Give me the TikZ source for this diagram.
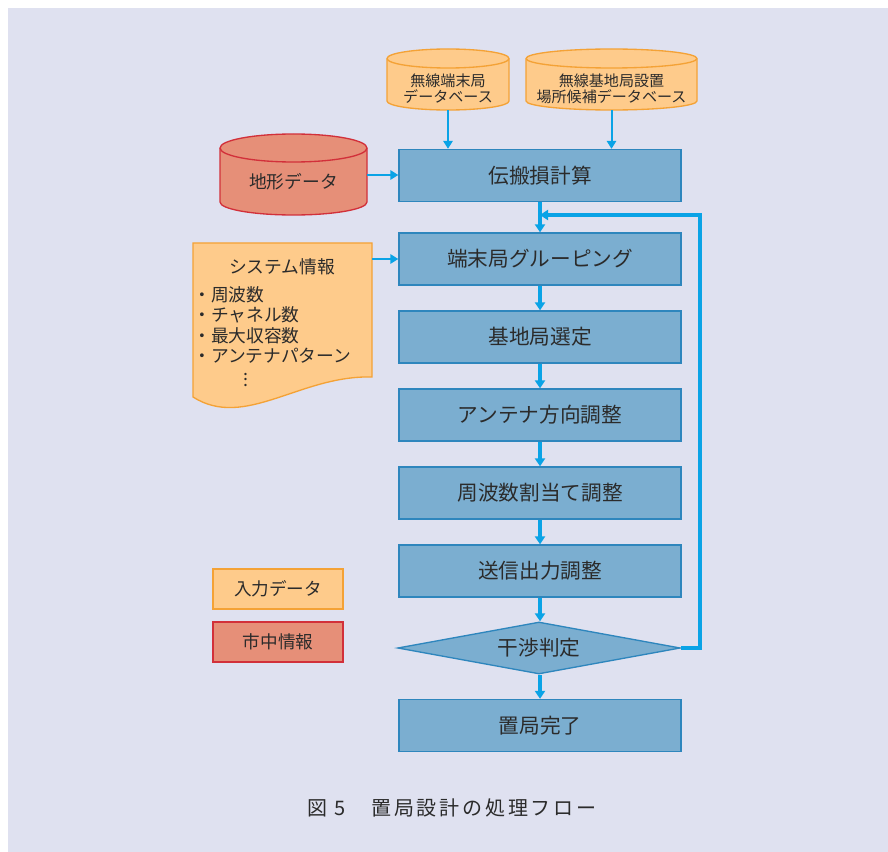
\documentclass[tikz,border=0pt]{standalone}
\usepackage{fontspec}
\setmainfont{Noto Sans CJK JP}
\usetikzlibrary{shapes.geometric,arrows.meta}
\definecolor{bgpanel}{HTML}{DFE1F0}
\definecolor{boxfill}{HTML}{7BAED0}
\definecolor{boxdraw}{HTML}{2E86BD}
\definecolor{arrowblue}{HTML}{0AA3E6}
\definecolor{orfill}{HTML}{FECB8B}
\definecolor{ordraw}{HTML}{F4A236}
\definecolor{rdfill}{HTML}{E68F78}
\definecolor{rddraw}{HTML}{D2303A}
\definecolor{txt}{HTML}{2B2B2B}
\tikzset{
  procbox/.style={draw=boxdraw, fill=boxfill, line width=1pt, minimum width=211.5pt, minimum height=39pt, inner sep=0pt, text=txt, font=\fontsize{15.5}{18}\selectfont},
  decbox/.style={diamond, aspect=5.42, draw=boxdraw, fill=boxfill, line width=1pt, minimum width=212pt, minimum height=39pt, inner sep=0pt, text=txt, font=\fontsize{15.5}{18}\selectfont},
  flow/.style={draw=arrowblue, line width=2.4pt, -{Triangle[length=6pt,width=7.5pt]}},
  inflow/.style={draw=arrowblue, line width=1.5pt, -{Triangle[length=6pt,width=7pt]}},
  orshape/.style={fill=orfill, draw=ordraw, line width=1pt},
  rdshape/.style={fill=rdfill, draw=rddraw, line width=1pt},
  lbl/.style={inner sep=0pt, text=txt, align=center},
  legbox/.style={minimum width=97.5pt, minimum height=30pt, inner sep=0pt, line width=1pt, text=txt, font=\fontsize{13.2}{16}\selectfont},
}
\begin{document}
\begin{tikzpicture}[x=0.75pt,y=-0.75pt]
\useasboundingbox (0,0) rectangle (888,852);
\fill[bgpanel] (8,8) rectangle (888,852);

% database cylinders
\path[orshape] (387,58.5) -- (387,101) arc[start angle=180,end angle=0,x radius=61,y radius=9] -- (509,58.5) arc[start angle=0,end angle=-180,x radius=61,y radius=9.5] -- cycle;
\draw[ordraw, line width=1pt] (387,58.5) arc[start angle=180,end angle=0,x radius=61,y radius=9.5];
\node[lbl, font=\fontsize{11.3}{13}\selectfont, minimum width=91.5pt, minimum height=31.5pt] (db1) at (448,89) {無線端末局\\[-1pt]データベース};

\path[orshape] (526,58.5) -- (526,101) arc[start angle=180,end angle=0,x radius=85.5,y radius=9] -- (697,58.5) arc[start angle=0,end angle=-180,x radius=85.5,y radius=9.5] -- cycle;
\draw[ordraw, line width=1pt] (526,58.5) arc[start angle=180,end angle=0,x radius=85.5,y radius=9.5];
\node[lbl, font=\fontsize{11.3}{13}\selectfont, minimum width=128pt, minimum height=31.5pt] (db2) at (611.5,89) {無線基地局設置\\[-1pt]場所候補データベース};

\path[rdshape] (220,148) -- (220,202) arc[start angle=180,end angle=0,x radius=73.5,y radius=13] -- (367,148) arc[start angle=0,end angle=-180,x radius=73.5,y radius=14] -- cycle;
\draw[rddraw, line width=1pt] (220,148) arc[start angle=180,end angle=0,x radius=73.5,y radius=14];
\node[lbl, font=\fontsize{13.3}{16}\selectfont] (terrain) at (293.5,182) {地形データ};
\coordinate (terrainR) at (367,175);

% document shape
\path[orshape] (193,243) -- (372,243) -- (372,377) .. controls (300,375) and (245,430) .. (193,397) -- cycle;
\node[lbl, font=\fontsize{13.3}{16}\selectfont] (systitle) at (282,267) {システム情報};
\node[lbl, anchor=north west, align=left, font=\fontsize{13.3}{15.2}\selectfont] (syslist) at (193,286.5) {・周波数\\・チャネル数\\・最大収容数\\・アンテナパターン\\[0.5pt]\hspace*{37.9pt}$\vdots$};
\coordinate (docR) at (372,259);

% process boxes
\node[procbox] (b1) at (540,175.5) {伝搬損計算};
\node[procbox] (b2) at (540,259) {端末局グルーピング};
\node[procbox] (b3) at (540,337) {基地局選定};
\node[procbox] (b4) at (540,415) {アンテナ方向調整};
\node[procbox] (b5) at (540,493) {周波数割当て調整};
\node[procbox] (b6) at (540,571) {送信出力調整};
\node[decbox] (d1) at (539,648) {干渉判定};
\node[procbox] (b7) at (540,725.5) {置局完了};

% input arrows
\draw[inflow] (db1.south) -- (db1.south |- b1.north);
\draw[inflow] (db2.south) -- (db2.south |- b1.north);
\draw[inflow] (terrainR) -- (terrainR -| b1.west);
\draw[inflow] (docR) -- (docR -| b2.west);

% main flow
\draw[flow] (b1) -- (b2);
\draw[flow] (b2) -- (b3);
\draw[flow] (b3) -- (b4);
\draw[flow] (b4) -- (b5);
\draw[flow] (b5) -- (b6);
\draw[flow] (b6.south) -- (b6.south |- d1.north);
\draw[flow] (d1.south -| b7.north) -- (b7.north);

% loop back
\coordinate (loopin) at (540,215);
\draw[flow] (d1.east) -- ++(19,0) |- (loopin);

% legend
\node[legbox, fill=orfill, draw=ordraw] (leg1) at (278,589) {入力データ};
\node[legbox, fill=rdfill, draw=rddraw] (leg2) at (278,642) {市中情報};

% caption
\node[lbl, font=\fontsize{15}{18}\selectfont\addfontfeature{LetterSpace=14}] (caption) at (452,808) {図 5　置局設計の処理フロー};
\end{tikzpicture}
\end{document}
